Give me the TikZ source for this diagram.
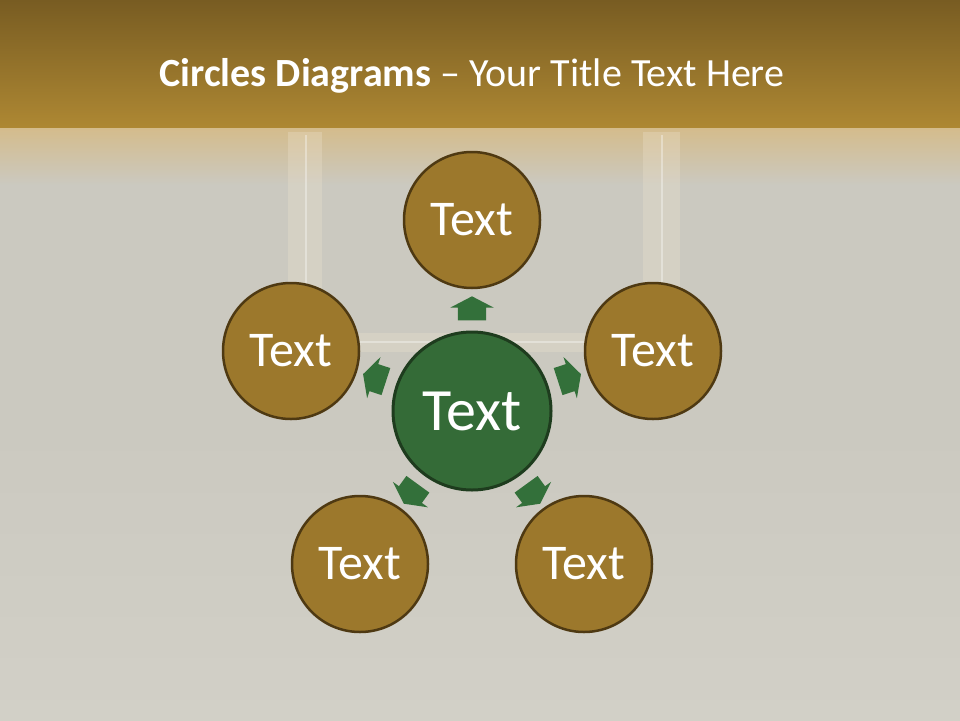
\documentclass[tikz,border=0pt]{standalone}
\usepackage{fontspec}
\setmainfont{Carlito}
\usetikzlibrary{shapes.arrows,calc}
\definecolor{goldtop}{HTML}{785C22}
\definecolor{goldlow}{HTML}{AE8833}
\definecolor{tanband}{HTML}{D4BC8C}
\definecolor{wallgray}{HTML}{CBC9C0}
\definecolor{wallpale}{HTML}{D2D0C7}
\definecolor{framecream}{HTML}{EFE4CF}
\definecolor{bubblefill}{HTML}{9C782C}
\definecolor{bubbleline}{HTML}{4E3912}
\definecolor{hubfill}{HTML}{346B37}
\definecolor{hubline}{HTML}{1E3C1E}
\definecolor{arrowgreen}{HTML}{33703A}

\begin{document}
\begin{tikzpicture}[x=1pt, y=-1pt,
    bubble/.style={circle, draw=bubbleline, line width=2.5pt, fill=bubblefill, minimum size=136pt, inner sep=0pt, text=white, font=\fontsize{50}{60}\selectfont},
    hub/.style={circle, draw=hubline, line width=3pt, fill=hubfill, minimum size=158pt, inner sep=0pt, text=white, font=\fontsize{60}{72}\selectfont},
    pointer/.style={single arrow, fill=arrowgreen, draw=none, minimum height=24pt, inner xsep=0pt, inner ysep=14pt, single arrow head extend=7.5pt, single arrow tip angle=125}
]

% Backdrop
\useasboundingbox (0,0) rectangle (960,720);
\fill[wallgray] (0,0) rectangle (960,720);
\shade[top color=goldtop, bottom color=goldlow] (0,0) rectangle (960,128);
\shade[top color=tanband, bottom color=wallgray] (0,128) rectangle (960,185);
\shade[top color=wallgray, bottom color=wallpale] (0,430) rectangle (960,720);

% Picture frame behind the diagram
\fill[framecream, opacity=0.3] (288,132) rectangle (322,350);
\fill[framecream, opacity=0.3] (643,132) rectangle (680,350);
\fill[framecream, opacity=0.3] (322,333) rectangle (643,352);
\draw[white, opacity=0.35, line width=2pt] (306,135) -- (306,345);
\draw[white, opacity=0.35, line width=2pt] (662,135) -- (662,345);
\draw[white, opacity=0.35, line width=2pt] (322,342) -- (643,342);

% Title
\node[text=white, font=\fontsize{40}{48}\selectfont] (title) at (472,76) {\textbf{Circles Diagrams} -- Your Title Text Here};

% Centre
\node[hub] (hub) at (472,411) {Text};

% Outer circles
\node[bubble] (top) at (472,220) {Text};
\node[bubble] (right) at (653,351) {Text};
\node[bubble] (left) at (291,351) {Text};
\node[bubble] (botleft) at (360,564) {Text};
\node[bubble] (botright) at (584,564) {Text};

% Arrows pointing out
\node[pointer, rotate=90] (ptop) at (472,312) {};
\node[pointer, rotate=18] (pright) at (566,379) {};
\node[pointer, rotate=162] (pleft) at (378,379) {};
\node[pointer, rotate=234] (pbotleft) at (413,491) {};
\node[pointer, rotate=306] (pbotright) at (531,491) {};

\end{tikzpicture}
\end{document}
